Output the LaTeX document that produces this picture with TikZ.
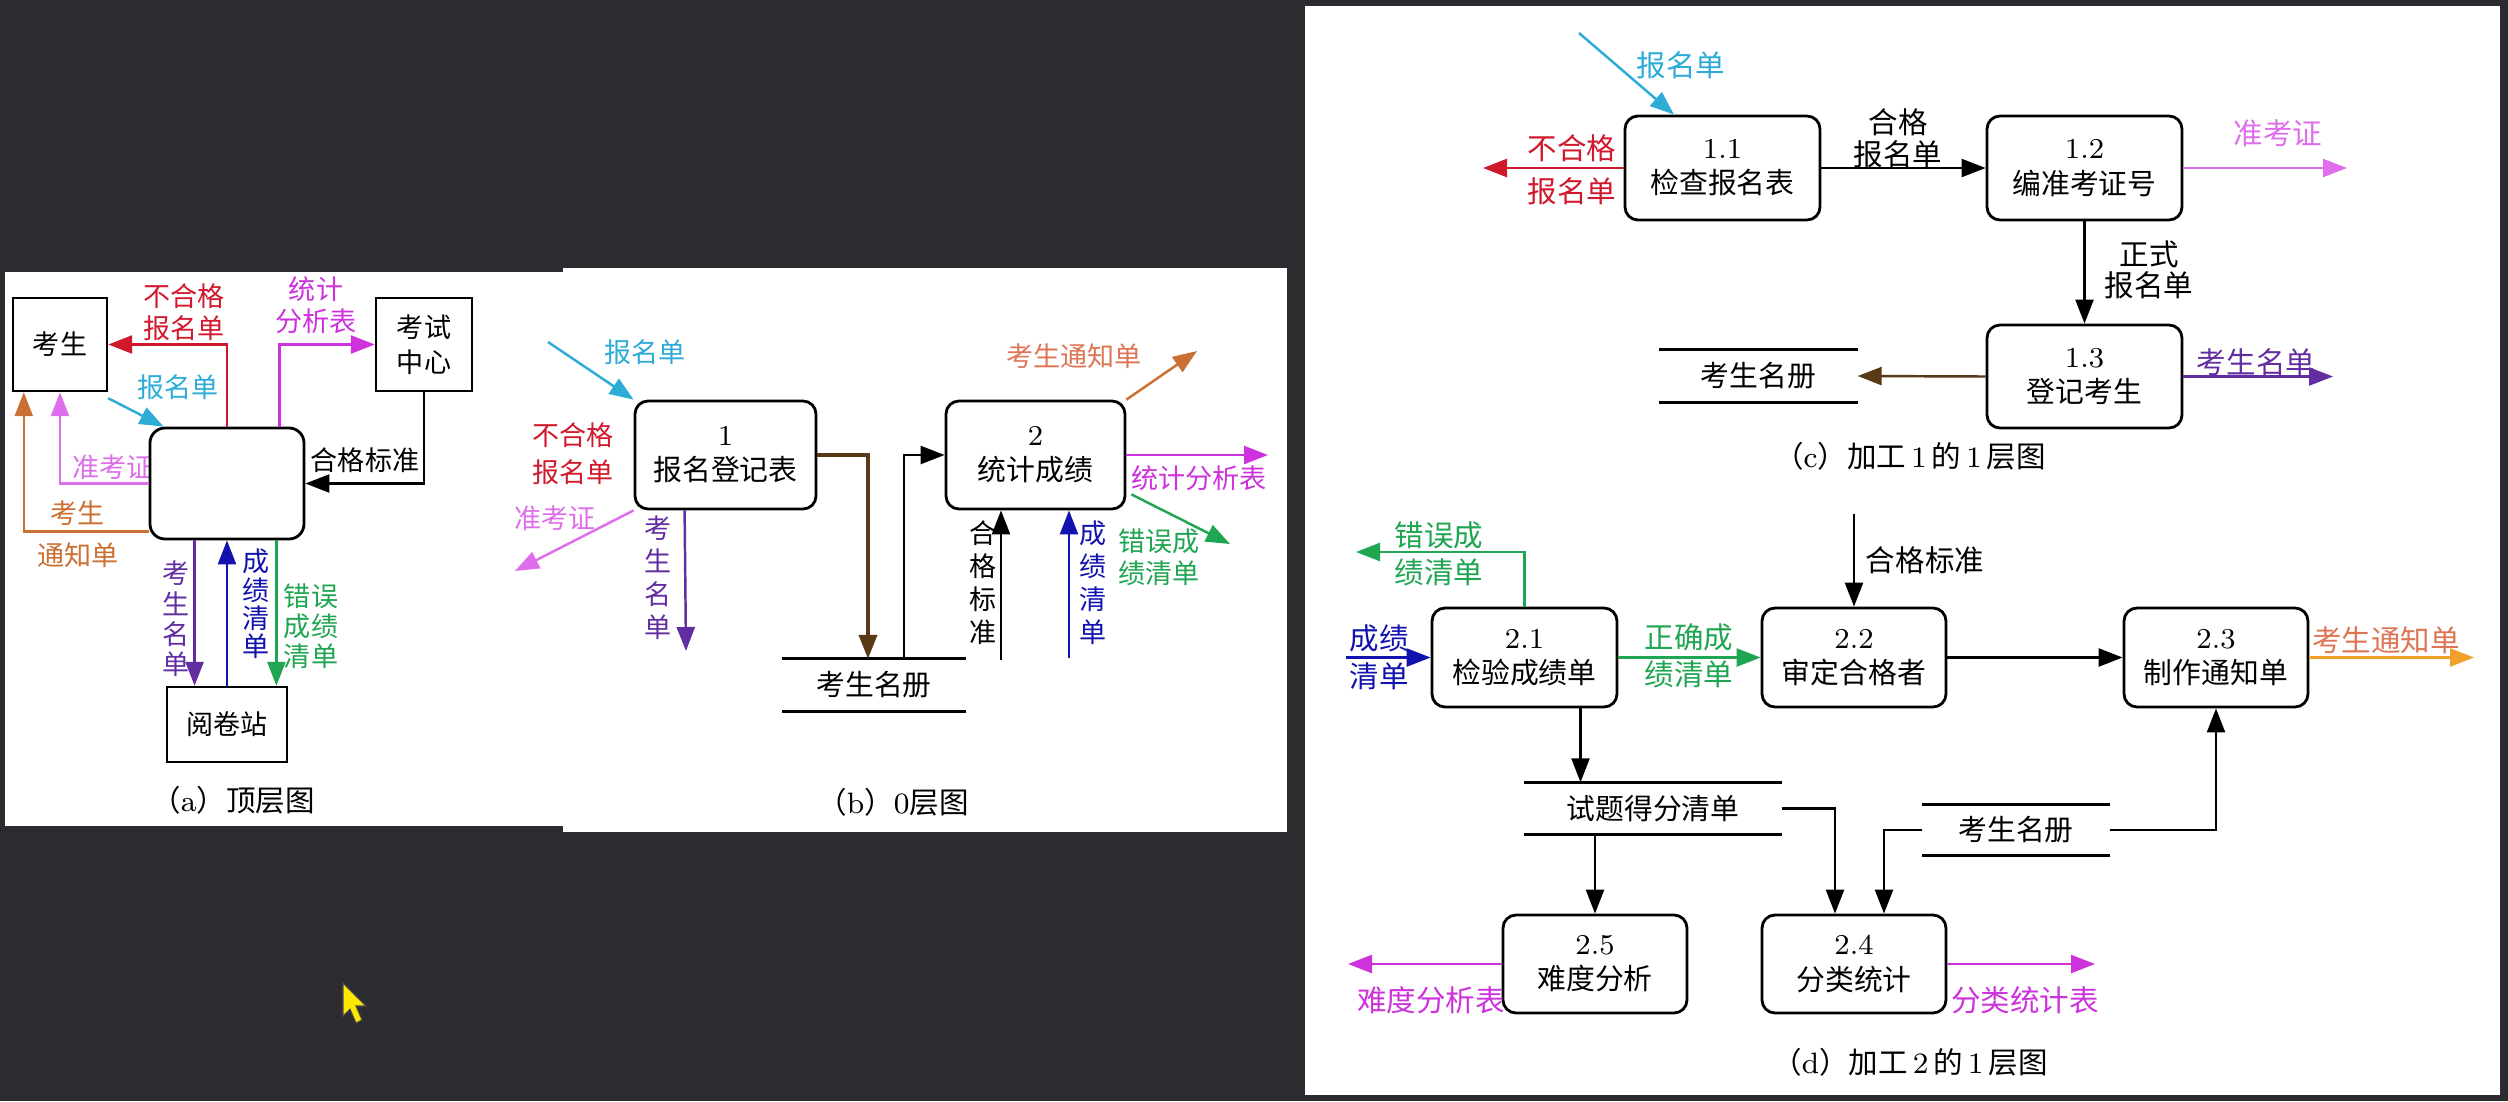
\documentclass[tikz,border=0pt]{standalone}
\usepackage{fontspec}
\setmainfont{Noto Sans CJK SC}
\newfontfamily\lmr{Latin Modern Roman}
\usetikzlibrary{arrows.meta,positioning}

\definecolor{bgdark}{RGB}{43,43,48}
\definecolor{cyanA}{RGB}{45,172,215}
\definecolor{redA}{RGB}{208,25,45}
\definecolor{magA}{RGB}{205,50,220}
\definecolor{pinkA}{RGB}{222,110,235}
\definecolor{orgA}{RGB}{202,112,50}
\definecolor{orgD}{RGB}{240,160,40}
\definecolor{orgT}{RGB}{222,118,85}
\definecolor{purA}{RGB}{98,45,160}
\definecolor{bluA}{RGB}{18,18,175}
\definecolor{grnA}{RGB}{32,165,82}
\definecolor{brnA}{RGB}{88,58,22}

\tikzset{
  every node/.style={inner sep=0pt, align=center},
  lbla/.style={font=\fontsize{7.7}{9}\selectfont},
  lblv/.style={font=\fontsize{7.7}{9.4}\selectfont},
  lblc/.style={font=\fontsize{8.4}{12.2}\selectfont},
  lbld/.style={font=\fontsize{8.4}{10.4}\selectfont},
  ent/.style={draw, line width=0.7pt, fill=white, font=\fontsize{7.7}{10}\selectfont},
  proc/.style={draw, rounded corners=1.3mm, line width=0.8pt, fill=white, font=\fontsize{8.2}{10}\selectfont},
  storebox/.style={minimum height=5.1mm, font=\fontsize{8.2}{10}\selectfont},
  storeline/.style={line width=0.8pt},
  flow/.style={line width=0.7pt, -{Triangle[length=2.4mm,width=1.8mm]}},
  caption/.style={font=\fontsize{8.4}{10}\selectfont}
}

\begin{document}
\begin{tikzpicture}[x=0.1mm, y=-0.1mm]
\useasboundingbox (0,0) rectangle (2508,1101);
\fill[bgdark] (0,0) rectangle (2508,1101);
\fill[white] (5,272) rectangle (563,826);
\fill[white] (563,268) rectangle (1287,832);
\fill[white] (1305,6) rectangle (2500,1095);

% (a) top level
\node[lbla, text=pinkA] (a-zkz) at (113,467) {准考证};
\node[ent, minimum width=9.4mm, minimum height=9.3mm] (ks) at (60,344.5) {考生};
\node[ent, minimum width=9.6mm, minimum height=9.3mm] (ksc) at (424,344.5) {考试\\中心};
\node[proc, rounded corners=1.5mm, minimum width=15.4mm, minimum height=11.1mm] (p0) at (227,483.5) {};
\node[ent, minimum width=12mm, minimum height=7.5mm] (yjz) at (227,724.5) {阅卷站};

\draw[flow, redA] (p0.north) |- (ks.east);
\draw[flow, cyanA] ([yshift=-0.6mm]ks.south east) -- ([xshift=1.5mm]p0.north west);
\draw[flow, magA] ([xshift=-2.6mm]p0.north east) |- (ksc.west);
\draw[flow] (ksc.south) |- (p0.east);
\draw[flow, pinkA] (p0.west) -| (ks.south);
\draw[flow, orgA] ([yshift=0.9mm]p0.south west) -| ([xshift=1.2mm]ks.south west);
\draw[flow, purA] ([xshift=4.6mm]p0.south west) -- ([xshift=4.6mm]p0.south west |- yjz.north);
\draw[flow, bluA] (yjz.north) -- (p0.south);
\draw[flow, grnA] ([xshift=-2.9mm]p0.south east) -- ([xshift=-2.9mm]p0.south east |- yjz.north);

\node[lbla, text=redA] (a-bhg) at (184,312) {不合格\\报名单};
\node[lbla, text=cyanA] (a-bmd) at (178,387) {报名单};
\node[lbla, text=magA] (a-tj) at (316,305) {统计\\分析表};
\node[lbla] (a-hgbz) at (365,460) {合格标准};
\node[lbla, text=orgA] (a-ks) at (78,513) {考生};
\node[lbla, text=orgA] (a-tzd) at (78,555) {通知单};
\node[lblv, font=\fontsize{7.7}{8.6}\selectfont, text=purA] (a-ksmd) at (176,619) {考\\生\\名\\单};
\node[lblv, font=\fontsize{7.7}{8.1}\selectfont, text=bluA] (a-cjqd) at (256,604) {成\\绩\\清\\单};
\node[lblv, font=\fontsize{7.7}{8.5}\selectfont, text=grnA] (a-cwcj) at (311,626) {错误\\成绩\\清单};
\node[caption] (a-cap) at (233,800) {（{\lmr a}）顶层图};

% (b) level 0
\node[proc, minimum width=18.1mm, minimum height=10.8mm] (b1) at (725.5,455) {{\lmr 1}\\报名登记表};
\node[proc, minimum width=17.9mm, minimum height=10.8mm] (b2) at (1035.5,455) {{\lmr 2}\\统计成绩};
\node[storebox, minimum width=18.2mm] (bs) at (874,685) {考生名册};
\draw[storeline] (bs.north west) -- (bs.north east) (bs.south west) -- (bs.south east);

\coordinate (b-in) at (548,342);
\coordinate (b-zkz) at (515,571);
\coordinate (b-ksmd) at (686,651);
\coordinate (b-hgbz) at (1001,660);
\coordinate (b-cjqd) at (1069,658);
\coordinate (b-cw) at (1230,544);
\coordinate (b-tj) at (1268,455);
\coordinate (b-tz) at (1197,351);

\draw[flow, cyanA] (b-in) -- (b1.north west);
\draw[flow, pinkA] (b1.south west) -- (b-zkz);
\draw[flow, purA] ([xshift=5.1mm]b1.south west) -- (b-ksmd);
\draw[flow, brnA, line width=1.1pt] (b1.east) -| ([xshift=-0.6mm]bs.north);
\draw[flow] ([xshift=3mm]bs.north) |- (b2.west);
\draw[flow] (b-hgbz) -- (b-hgbz |- b2.south);
\draw[flow, bluA] (b-cjqd) -- (b-cjqd |- b2.south);
\draw[flow, grnA] ([xshift=0.5mm, yshift=1.6mm]b2.south east) -- (b-cw);
\draw[flow, magA] (b2.east) -- (b-tj);
\draw[flow, orgA] (b2.north east) -- (b-tz);

\node[lbla, text=cyanA] (b-l1) at (645,352) {报名单};
\node[lbla, font=\fontsize{7.7}{10.5}\selectfont, text=redA] (b-l2) at (573,454) {不合格\\报名单};
\node[lbla, text=pinkA] (b-l3) at (555,518) {准考证};
\node[lblv, text=purA] (b-l4) at (658,578) {考\\生\\名\\单};
\node[lblv] (b-l5) at (983,583) {合\\格\\标\\准};
\node[lblv, text=bluA] (b-l6) at (1093,583) {成\\绩\\清\\单};
\node[lbla, text=grnA] (b-l7) at (1159,557) {错误成\\绩清单};
\node[lbla, text=magA] (b-l8) at (1199,478) {统计分析表};
\node[lbla, text=orgT] (b-l9) at (1074,356) {考生通知单};
\node[caption] (b-cap) at (893,802) {（{\lmr b}）{\lmr 0}层图};

% (c) level 1 of process 1
\node[proc, minimum width=19.5mm, minimum height=10.4mm] (c11) at (1722.5,168) {{\lmr 1.1}\\检查报名表};
\node[proc, minimum width=19.5mm, minimum height=10.4mm] (c12) at (2084.5,168) {{\lmr 1.2}\\编准考证号};
\node[proc, minimum width=19.5mm, minimum height=10.3mm] (c13) at (2084.5,376.5) {{\lmr 1.3}\\登记考生};
\node[storebox, minimum width=19.7mm, minimum height=5.2mm] (cs) at (1758.5,376) {考生名册};
\draw[storeline] (cs.north west) -- (cs.north east) (cs.south west) -- (cs.south east);

\coordinate (c-in) at (1579,33);
\coordinate (c-bhg) at (1483,168);
\coordinate (c-zkz) at (2347,168);
\coordinate (c-ksmd) at (2333,376.5);

\draw[flow, cyanA] (c-in) -- ([xshift=-4.85mm]c11.north);
\draw[flow, redA] (c11.west) -- (c-bhg);
\draw[flow] (c11.east) -- (c12.west);
\draw[flow, pinkA] (c12.east) -- (c-zkz);
\draw[flow] (c12.south) -- (c13.north);
\draw[flow, purA] (c13.east) -- (c-ksmd);
\draw[flow, brnA] (c13.west) -- (cs.east);

\node[lblc, text=cyanA] (c-l1) at (1681,65) {报名单};
\node[lblc, text=redA] (c-l2) at (1572,170) {不合格\\报名单};
\node[lblc, font=\fontsize{8.4}{9}\selectfont] (c-l3) at (1898,138) {合格\\报名单};
\node[lblc, text=pinkA] (c-l4) at (2278,133) {准考证};
\node[lblc, font=\fontsize{8.4}{9}\selectfont] (c-l5) at (2149,270) {正式\\报名单};
\node[lblc, text=purA] (c-l6) at (2256,362) {考生名单};
\node[caption] (c-cap) at (1910,456) {（{\lmr c}）加工\,{\lmr 1}\,的\,{\lmr 1}\,层图};

% (d) level 1 of process 2
\node[proc, minimum width=18.5mm, minimum height=9.9mm] (d21) at (1524.5,657.5) {{\lmr 2.1}\\检验成绩单};
\node[proc, minimum width=18.4mm, minimum height=9.9mm] (d22) at (1854,657.5) {{\lmr 2.2}\\审定合格者};
\node[proc, minimum width=18.4mm, minimum height=9.9mm] (d23) at (2216,657.5) {{\lmr 2.3}\\制作通知单};
\node[proc, minimum width=18.4mm, minimum height=9.8mm] (d25) at (1595,964) {{\lmr 2.5}\\难度分析};
\node[proc, minimum width=18.4mm, minimum height=9.8mm] (d24) at (1854,964) {{\lmr 2.4}\\分类统计};
\node[storebox, minimum width=25.6mm] (ds1) at (1653,808.5) {试题得分清单};
\draw[storeline] (ds1.north west) -- (ds1.north east) (ds1.south west) -- (ds1.south east);
\node[storebox, minimum width=18.6mm, minimum height=5mm] (ds2) at (2016,830) {考生名册};
\draw[storeline] (ds2.north west) -- (ds2.north east) (ds2.south west) -- (ds2.south east);

\coordinate (d-cw) at (1356,552);
\coordinate (d-cj) at (1346,657.5);
\coordinate (d-hgbz) at (1854,514);
\coordinate (d-tz) at (2474,657.5);
\coordinate (d-nd) at (1348,964);
\coordinate (d-fl) at (2095,964);

\draw[flow, grnA] (d21.north) |- (d-cw);
\draw[flow, bluA] (d-cj) -- (d21.west);
\draw[flow, grnA] (d21.east) -- (d22.west);
\draw[flow] (d-hgbz) -- (d22.north);
\draw[flow] (d22.east) -- (d23.west);
\draw[flow, orgD] (d23.east) -- (d-tz);
\draw[flow] ([xshift=5.6mm]d21.south) -- ([xshift=5.6mm]d21.south |- ds1.north);
\draw[flow] (d25.north |- ds1.south) -- (d25.north);
\draw[flow] (ds1.east) -| ([xshift=-1.9mm]d24.north);
\draw[flow] (ds2.west) -| ([xshift=3mm]d24.north);
\draw[flow] (ds2.east) -| (d23.south);
\draw[flow, magA] (d25.west) -- (d-nd);
\draw[flow, magA] (d24.east) -- (d-fl);

\node[lbld, text=grnA] (d-l1) at (1439,554) {错误成\\绩清单};
\node[lbld, font=\fontsize{8.4}{10.8}\selectfont, text=bluA] (d-l2) at (1379,657) {成绩\\清单};
\node[lbld, text=grnA] (d-l3) at (1689,656) {正确成\\绩清单};
\node[lbld] (d-l4) at (1925,560) {合格标准};
\node[lbld, text=orgT] (d-l5) at (2386,640) {考生通知单};
\node[lbld, text=magA] (d-l6) at (1431,1000) {难度分析表};
\node[lbld, text=magA] (d-l7) at (2025,1000) {分类统计表};
\node[caption] (d-cap) at (1910,1062) {（{\lmr d}）加工\,{\lmr 2}\,的\,{\lmr 1}\,层图};

% mouse pointer
\filldraw[fill=yellow!90!orange, draw=black!70, line width=0.3pt]
  (343,983) -- (343,1016) -- (350,1009) -- (356,1023) -- (362,1020) -- (356,1006) -- (366,1006) -- cycle;
\end{tikzpicture}
\end{document}
